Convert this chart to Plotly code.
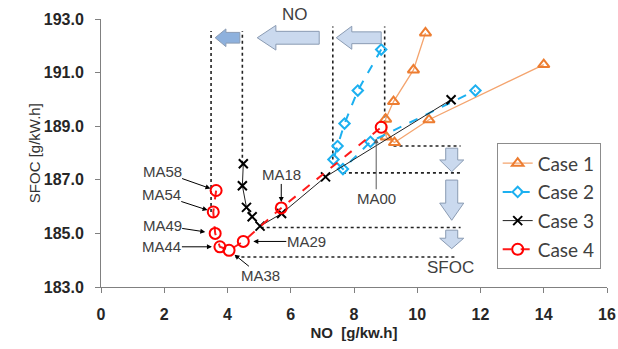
import plotly.graph_objects as go

# ---------------- data ----------------
case1_no = [10.26, 9.88, 9.25, 9.00, 9.02, 9.28, 10.37, 14.00]
case1_sfoc = [192.48, 191.10, 189.92, 189.26, 188.60, 188.39, 189.24, 191.30]

case2_no = [8.86, 8.12, 7.70, 7.48, 7.35, 7.65, 8.52, 11.84]
case2_sfoc = [191.86, 190.33, 189.10, 188.26, 187.76, 187.40, 188.42, 190.33]

case3_no = [4.50, 4.47, 4.60, 4.78, 5.03, 5.71, 7.10, 11.07]
case3_sfoc = [187.60, 186.78, 185.97, 185.62, 185.27, 185.74, 187.11, 189.99]

case4_no = [3.64, 3.55, 3.61, 3.76, 4.05, 4.50, 5.70, 8.86]
case4_sfoc = [186.60, 185.80, 185.00, 184.50, 184.37, 184.70, 185.95, 188.96]
case4_labels = ["MA58", "MA54", "MA49", "MA44", "MA38", "MA29", "MA18", "MA00"]

series_names = ["Case 1", "Case 2", "Case 3", "Case 4"]
x_ticks = [0, 2, 4, 6, 8, 10, 12, 14, 16]
y_ticks = [183, 185, 187, 189, 191, 193]

# ---------------- decoration geometry (not data) ----------------
# label callouts: (pixel offset of text from point, standoff, xshift, colour)
label_layout = {
    "MA58": (-54, -19, 6, 0, "#000000"),
    "MA54": (-52, -17, 6, 0, "#000000"),
    "MA49": (-53, -8, 10, 0, "#000000"),
    "MA44": (-58, 0, 8, 0, "#000000"),
    "MA38": (31, 25, 7, 0, "#000000"),
    "MA29": (63, 0, 10, 0, "#000000"),
    "MA18": (0, -33, 6, 0, "#000000"),
    "MA00": (0, 71, 11, -5, "#595959"),
}
# dotted guides (x0, y0, x1, y1) in data units
guides = [
    (3.48, 185.80, 3.48, 192.55),
    (4.47, 187.60, 4.47, 192.55),
    (7.33, 187.76, 7.33, 192.72),
    (8.97, 189.10, 8.97, 192.72),
    (9.25, 188.26, 11.37, 188.26),
    (7.65, 187.26, 11.37, 187.26),
    (5.05, 185.22, 11.37, 185.22),
    (4.25, 184.12, 11.25, 184.12),
]
# left block arrows: (tip_x, head_base_x, tail_x, y_center, body_half, head_half, fill)
left_arrows = [
    (3.61, 3.95, 4.39, 192.30, 0.20, 0.33, "#8eb1dd"),
    (4.94, 5.53, 6.90, 192.30, 0.24, 0.46, "#cad9ee"),
    (7.44, 7.93, 8.86, 192.30, 0.22, 0.43, "#cad9ee"),
]
# down block arrows: (x_center, top_y, head_base_y, tip_y, body_half, head_half)
down_arrows = [
    (11.09, 188.18, 187.74, 187.30, 0.19, 0.38),
    (11.09, 186.99, 186.13, 185.49, 0.19, 0.38),
    (11.09, 185.12, 184.82, 184.43, 0.19, 0.38),
]

fig = go.Figure()

fig.add_trace(go.Scatter(
    x=case1_no, y=case1_sfoc, name=series_names[0], mode="lines+markers", legendgroup="g1",
    line=dict(color="#F4A46E", width=1.3),
    marker=dict(symbol="triangle-up-open", size=10, color="#ED7D31", line=dict(width=2, color="#ED7D31")),
))
fig.add_trace(go.Scatter(
    x=case2_no, y=case2_sfoc, name=series_names[1], mode="lines+markers", legendgroup="g2",
    line=dict(color="#1CB0F0", width=2, dash="dash"),
    marker=dict(symbol="diamond-open", size=8, color="#1CB0F0", line=dict(width=2, color="#1CB0F0")),
))
fig.add_trace(go.Scatter(
    x=case3_no, y=case3_sfoc, name=series_names[2], mode="lines+markers", legendgroup="g3",
    line=dict(color="#222222", width=1),
    marker=dict(symbol="x-thin", size=9, color="#000000", line=dict(width=2, color="#000000")),
))
fig.add_trace(go.Scatter(
    x=case4_no, y=case4_sfoc, name=series_names[3], mode="lines+markers", legendgroup="g4",
    line=dict(color="#FF1A1A", width=2, dash="dash"),
    marker=dict(symbol="circle-open", size=11, color="#FF0000", line=dict(width=2, color="#FF0000")),
))

shapes = []
for (x0, y0, x1, y1) in guides:
    shapes.append(dict(type="line", xref="x", yref="y", x0=x0, y0=y0, x1=x1, y1=y1,
                       line=dict(color="#222222", width=1.6, dash="dot"), layer="below"))
for (tip, hb, tail, yc, bh, hh, fill) in left_arrows:
    path = (f"M {tip},{yc} L {hb},{yc+hh} L {hb},{yc+bh} L {tail},{yc+bh} "
            f"L {tail},{yc-bh} L {hb},{yc-bh} L {hb},{yc-hh} Z")
    shapes.append(dict(type="path", xref="x", yref="y", path=path, fillcolor=fill,
                       line=dict(color="#8a9bb3", width=1)))
for (xc, top, hb, tip, bh, hh) in down_arrows:
    path = (f"M {xc},{tip} L {xc-hh},{hb} L {xc-bh},{hb} L {xc-bh},{top} "
            f"L {xc+bh},{top} L {xc+bh},{hb} L {xc+hh},{hb} Z")
    shapes.append(dict(type="path", xref="x", yref="y", path=path, fillcolor="#cad9ee",
                       line=dict(color="#8a9bb3", width=1)))

annotations = []
for lab, xv, yv in zip(case4_labels, case4_no, case4_sfoc):
    ax, ay, so, xs, col = label_layout[lab]
    annotations.append(dict(
        x=xv, y=yv, xref="x", yref="y", text=lab, showarrow=True,
        ax=ax, ay=ay, axref="pixel", ayref="pixel", standoff=so, xshift=xs,
        arrowhead=2, arrowsize=1, arrowwidth=1, arrowcolor=col,
        font=dict(family="Liberation Sans, Arial", size=15, color="#404040"),
        borderpad=0,
    ))
annotations.append(dict(x=6.13, y=1.015, xref="x", yref="paper", text="NO", showarrow=False,
                        xanchor="center", yanchor="middle",
                        font=dict(family="Liberation Sans, Arial", size=17, color="#404040")))
annotations.append(dict(x=11.05, y=183.74, xref="x", yref="y", text="SFOC", showarrow=False,
                        xanchor="center", yanchor="middle",
                        font=dict(family="Liberation Sans, Arial", size=17, color="#404040")))
# y-axis title as rotated text
annotations.append(dict(x=-0.132, y=0.5, xref="paper", yref="paper", text="SFOC [g/kW.h]",
                        showarrow=False, textangle=-90, xanchor="center", yanchor="middle",
                        font=dict(family="Liberation Sans, Arial", size=15, color="#333333")))

fig.update_layout(
    width=618, height=349,
    margin=dict(l=101, r=11, t=19, b=62, autoexpand=False),
    paper_bgcolor="white", plot_bgcolor="white",
    shapes=shapes, annotations=annotations,
    showlegend=True,
    legend=dict(x=0.782, y=0.536, xanchor="left", yanchor="top",
                bordercolor="#8c8c8c", borderwidth=1, bgcolor="white",
                font=dict(family="Lato, Liberation Sans", size=19, color="#404040"),
                itemwidth=30, tracegroupgap=1),
    xaxis=dict(range=[0, 16], tickvals=x_ticks, ticks="outside", ticklen=5,
               tickcolor="#808080", showline=True, linecolor="#808080", linewidth=1,
               showgrid=False, zeroline=False, ticklabelstandoff=8, ticklabeloverflow="allow",
               tickfont=dict(family="Liberation Sans, Arial", size=16, color="#262626", weight="bold"),
               title=dict(text="NO  [g/kw.h]", standoff=5,
                          font=dict(family="Liberation Sans, Arial", size=15, color="#262626", weight="bold"))),
    yaxis=dict(range=[183, 193], tickvals=y_ticks, tickformat=".1f", ticks="outside", ticklen=5,
               tickcolor="#808080", showline=True, linecolor="#808080", linewidth=1,
               showgrid=False, zeroline=False, ticklabelstandoff=8,
               tickfont=dict(family="Liberation Sans, Arial", size=16, color="#262626", weight="bold")),
)

# remove the default 8px page margin so the figure fills the window exactly
fig.write_html("out.html", config={"displayModeBar": False},
               post_script="document.body.style.margin='0';document.body.style.overflow='hidden';")
